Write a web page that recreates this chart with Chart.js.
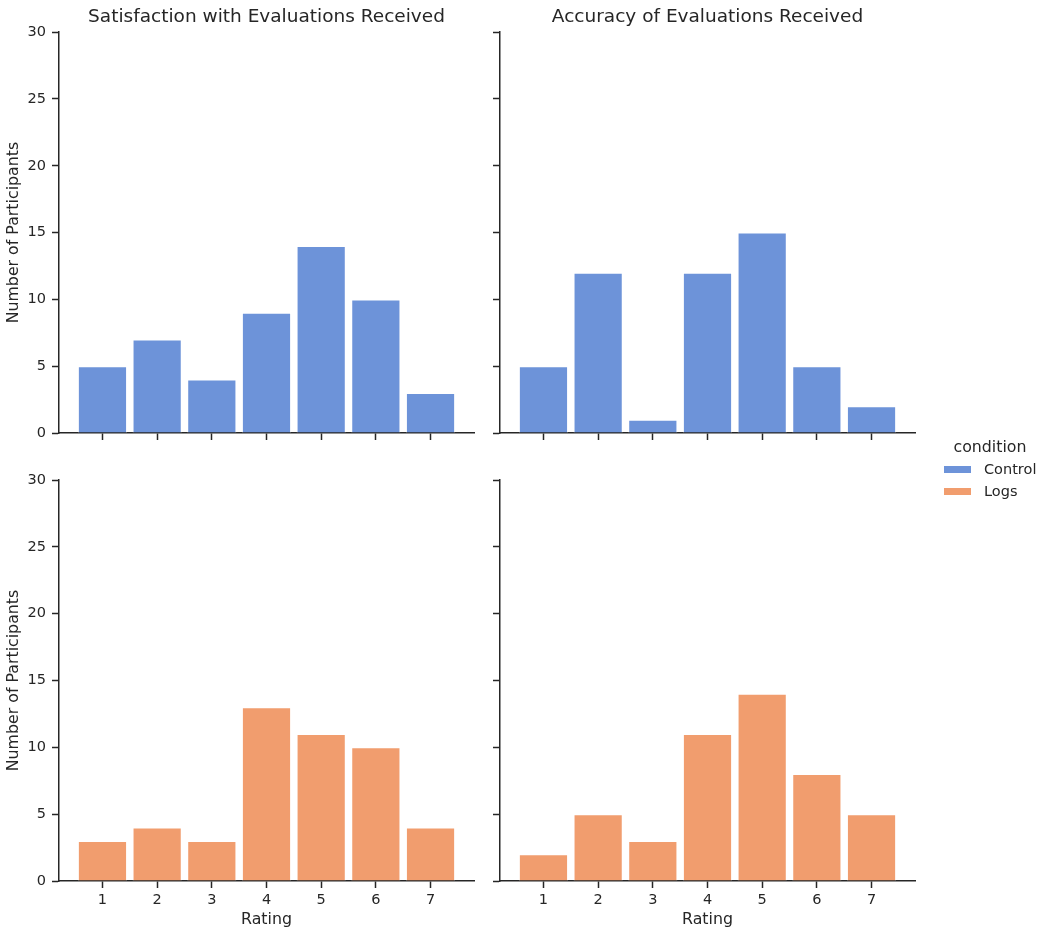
<!DOCTYPE html>
<html>
<head>
<meta charset="utf-8">
<script src="https://cdn.jsdelivr.net/npm/chart.js@4"></script>
<style>
  body { margin: 0; background: #fff; }
  #wrap { position: relative; width: 1044px; height: 931px; font-family: 'DejaVu Sans', sans-serif; color: #262626; }
  .panel { position: absolute; }
  .legend-title { position: absolute; left: 940px; top: 437px; width: 100px; text-align: center; font-size: 15.8px; line-height: 19px; }
  .legend-item { position: absolute; left: 944px; font-size: 14.5px; line-height: 17px; }
  .legend-item span.swatch { position: absolute; left: 0; top: 5px; width: 27px; height: 7px; }
  .legend-item span.label { position: absolute; left: 40px; top: 0; white-space: nowrap; }
</style>
</head>
<body>
<div id="wrap">
  <div class="panel" style="left:0;top:0"><canvas id="satControl" width="480" height="450"></canvas></div>
  <div class="panel" style="left:480px;top:0"><canvas id="accControl" width="480" height="450"></canvas></div>
  <div class="panel" style="left:0;top:450px"><canvas id="satLogs" width="480" height="481"></canvas></div>
  <div class="panel" style="left:480px;top:450px"><canvas id="accLogs" width="480" height="481"></canvas></div>

  <div class="legend-title">condition</div>
  <div class="legend-item" style="top:461px"><span class="swatch" style="background:#6d93d9"></span><span class="label">Control</span></div>
  <div class="legend-item" style="top:483px"><span class="swatch" style="background:#f19d6e"></span><span class="label">Logs</span></div>
</div>

<script>
// rating categories and counts per facet
const ratings = [1, 2, 3, 4, 5, 6, 7];
const satisfactionControl = [5, 7, 4, 9, 14, 10, 3];
const accuracyControl = [5, 12, 1, 12, 15, 5, 2];
const satisfactionLogs = [3, 4, 3, 13, 11, 10, 4];
const accuracyLogs = [2, 5, 3, 11, 14, 8, 5];
const yTicks = [0, 5, 10, 15, 20, 25, 30];
const panelTitles = ['Satisfaction with Evaluations Received', 'Accuracy of Evaluations Received'];

const INK = '#262626';
const BLUE = '#6d93d9';
const ORANGE = '#f19d6e';

Chart.defaults.font.family = "'DejaVu Sans', sans-serif";
Chart.defaults.color = INK;

// one facet of the grid
function makePanel(id, values, color, cfg) {
    const ctx = document.getElementById(id).getContext('2d');
    return new Chart(ctx, {
        type: 'bar',
        data: {
            datasets: [{
                data: ratings.map((r, i) => ({ x: r, y: values[i] })),
                backgroundColor: color,
                borderColor: 'rgba(255,255,255,0.85)',
                borderWidth: 1,
                categoryPercentage: 1.0,
                barPercentage: 0.9
            }]
        },
        options: {
            responsive: false,
            animation: false,
            layout: { padding: { left: 0, right: cfg.rightPad, top: cfg.topPad, bottom: 0 } },
            plugins: {
                legend: { display: false },
                tooltip: { enabled: false },
                title: {
                    display: !!cfg.title,
                    text: cfg.title,
                    fullSize: false,
                    color: INK,
                    font: { size: 18.5, weight: 'normal' },
                    padding: { top: 6, bottom: 4 }
                }
            },
            scales: {
                x: {
                    type: 'linear',
                    min: 0.205,
                    max: 7.795,
                    offset: false,
                    afterBuildTicks: (scale) => { scale.ticks = ratings.map(v => ({ value: v })); },
                    afterFit: (scale) => { scale.height = cfg.xHeight; },
                    grid: { display: true, offset: false, drawOnChartArea: false, drawTicks: true, tickLength: 7, tickWidth: 1.5, tickColor: INK },
                    border: { display: true, color: INK, width: 1.5 },
                    ticks: { display: cfg.xLabels, padding: 3.5, color: INK, font: { size: 14.5 }, autoSkip: false, maxRotation: 0 },
                    title: { display: cfg.xLabels, text: 'Rating', color: INK, font: { size: 15.8 }, padding: { top: 0, bottom: 1.5 } }
                },
                y: {
                    min: 0,
                    max: 30,
                    afterBuildTicks: (scale) => { scale.ticks = yTicks.map(v => ({ value: v })); },
                    afterFit: (scale) => { scale.width = cfg.yWidth; },
                    grid: { display: true, drawOnChartArea: false, drawTicks: true, tickLength: 7, tickWidth: 1.5, tickColor: INK },
                    border: { display: true, color: INK, width: 1.5 },
                    ticks: { display: cfg.yLabels, padding: 6, color: INK, font: { size: 14.5 } },
                    title: { display: cfg.yLabels, text: 'Number of Participants', color: INK, font: { size: 15.8 }, padding: { top: 4.5, bottom: 0 } }
                }
            }
        }
    });
}

makePanel('satControl', satisfactionControl, BLUE,
    { title: panelTitles[0], xLabels: false, yLabels: true, yWidth: 59, rightPad: 6, topPad: 0, xHeight: 17 });
makePanel('accControl', accuracyControl, BLUE,
    { title: panelTitles[1], xLabels: false, yLabels: false, yWidth: 20, rightPad: 45, topPad: 0, xHeight: 17 });
makePanel('satLogs', satisfactionLogs, ORANGE,
    { title: '', xLabels: true, yLabels: true, yWidth: 59, rightPad: 6, topPad: 30, xHeight: 50 });
makePanel('accLogs', accuracyLogs, ORANGE,
    { title: '', xLabels: true, yLabels: false, yWidth: 20, rightPad: 45, topPad: 30, xHeight: 50 });
</script>
</body>
</html>
